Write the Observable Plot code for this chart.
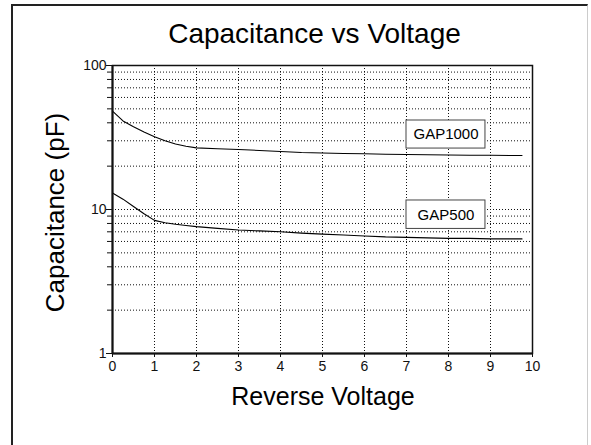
<!DOCTYPE html>
<html>
<head>
<meta charset="utf-8">
<script src="https://cdn.jsdelivr.net/npm/d3@7"></script>
<script src="https://cdn.jsdelivr.net/npm/@observablehq/plot@0.6"></script>
<style>
  html, body { margin: 0; padding: 0; background: #fff; }
  #wrap { position: relative; width: 591px; height: 445px; overflow: hidden; }
  #frame { position: absolute; left: 11px; top: 4px; width: 577px; height: 460px;
           border-left: 2px solid #222; border-top: 2px solid #222; border-right: 1px solid #ccc; box-sizing: border-box; }
  #chart { position: absolute; left: 0; top: 0; }
  #chart svg text { font-family: 'Liberation Sans', Arial, sans-serif !important; }
  #chart svg g[aria-label$="tick label"] text, #chart svg text.ticklab { font-size: 14px !important; fill: #111; }
</style>
</head>
<body>
<div id="wrap"><div id="frame"></div><div id="chart"></div></div>
<script>
const titleText = "Capacitance vs Voltage";
const xLabel = "Reverse Voltage";
const yLabel = "Capacitance (pF)";

const voltage = [0, 0.25, 0.5, 0.75, 1, 1.25, 1.5, 1.75, 2, 2.5, 3, 3.5, 4, 4.5, 5, 5.5, 6, 6.5, 7, 7.5, 8, 8.5, 9, 9.5, 9.75];
const gap1000 = [48.2, 41.2, 37.5, 34.5, 32.0, 30.0, 28.5, 27.5, 26.8, 26.4, 26.1, 25.7, 25.3, 24.9, 24.7, 24.5, 24.4, 24.2, 24.1, 24.0, 23.9, 23.8, 23.8, 23.7, 23.7];
const gap500  = [13.0, 11.8, 10.5, 9.35, 8.4, 8.1, 7.9, 7.75, 7.6, 7.4, 7.2, 7.1, 7.0, 6.85, 6.75, 6.65, 6.55, 6.45, 6.4, 6.35, 6.3, 6.3, 6.25, 6.25, 6.25];

const xTicks = [0, 1, 2, 3, 4, 5, 6, 7, 8, 9, 10];
const xGrid = [1, 2, 3, 4, 5, 6, 7, 8, 9];
const yMajor = [1, 10, 100];
const yMinor = [2, 3, 4, 5, 6, 7, 8, 9, 20, 30, 40, 50, 60, 70, 80, 90];
const yGrid = [2, 3, 4, 5, 6, 7, 8, 9, 10, 20, 30, 40, 50, 60, 70, 80, 90];

const seriesNames = ["GAP1000", "GAP500"];
const labelX1 = [7.0, 7.0];
const labelX2 = [8.88, 8.88];
const labelY1 = [26.5, 7.33];
const labelY2 = [41.5, 11.55];

const rows = [];
voltage.forEach((v, i) => {
  rows.push({series: "GAP1000", v, c: gap1000[i]});
  rows.push({series: "GAP500", v, c: gap500[i]});
});
const labels = seriesNames.map((name, i) => ({
  name, x1: labelX1[i], x2: labelX2[i], y1: labelY1[i], y2: labelY2[i],
  xm: (labelX1[i] + labelX2[i]) / 2, ym: Math.sqrt(labelY1[i] * labelY2[i])
}));

const W = 591, H = 445;
const chart = Plot.plot({
  width: W, height: H,
  marginLeft: 112, marginRight: 59, marginTop: 65, marginBottom: 92,
  style: {fontFamily: "'Liberation Sans', Arial, sans-serif", fontSize: "14px", color: "#111", background: "transparent"},
  x: {domain: [0, 10]},
  y: {type: "log", domain: [1, 100]},
  marks: [
    Plot.gridX({ticks: xGrid, stroke: "#111", strokeOpacity: 1, strokeDasharray: "1,2"}),
    Plot.gridY({ticks: yGrid, stroke: "#111", strokeOpacity: 1, strokeDasharray: "1,2"}),
    Plot.line(rows, {x: "v", y: "c", z: "series", stroke: "#000", strokeWidth: 1.1}),
    Plot.rect(labels, {x1: "x1", x2: "x2", y1: "y1", y2: "y2", fill: "white", stroke: "#444", strokeWidth: 1}),
    Plot.text(labels, {x: "xm", y: "ym", text: "name", fontSize: 15, fill: "#000"}),
    Plot.frame({stroke: "#111", strokeWidth: 1.5}),
    Plot.ruleX([0], {stroke: "#111", strokeWidth: 2}),
    Plot.ruleY([1], {stroke: "#111", strokeWidth: 2}),
    Plot.axisX({ticks: xTicks, tickFormat: d => String(d), tickSize: 4, tickPadding: 4, fontSize: 14, label: null}),
    Plot.axisY({ticks: yMajor, tickFormat: d => String(d), tickSize: 6, tickPadding: 0, fontSize: 14, label: null}),
    Plot.axisY({ticks: yMinor, tickFormat: () => "", tickSize: 5, label: null})
  ]
});

const svg = d3.select(chart);
svg.selectAll('g[aria-label$="tick label"]').attr("font-size", 14).style("font-size", "14px");
svg.selectAll('g[aria-label$="tick label"] text').classed("ticklab", true).style("font-size", "14px");
svg.append("text").attr("x", 314.5).attr("y", 42.7).attr("text-anchor", "middle")
  .style("font-size", "28px").attr("fill", "#000").text(titleText);
svg.append("text").attr("x", 323).attr("y", 405).attr("text-anchor", "middle")
  .style("font-size", "25px").attr("fill", "#000").text(xLabel);
svg.append("text").attr("transform", "translate(64,212.5) rotate(-90)").attr("text-anchor", "middle")
  .style("font-size", "26px").attr("fill", "#000").text(yLabel);

document.getElementById("chart").appendChild(chart);
</script>
</body>
</html>
